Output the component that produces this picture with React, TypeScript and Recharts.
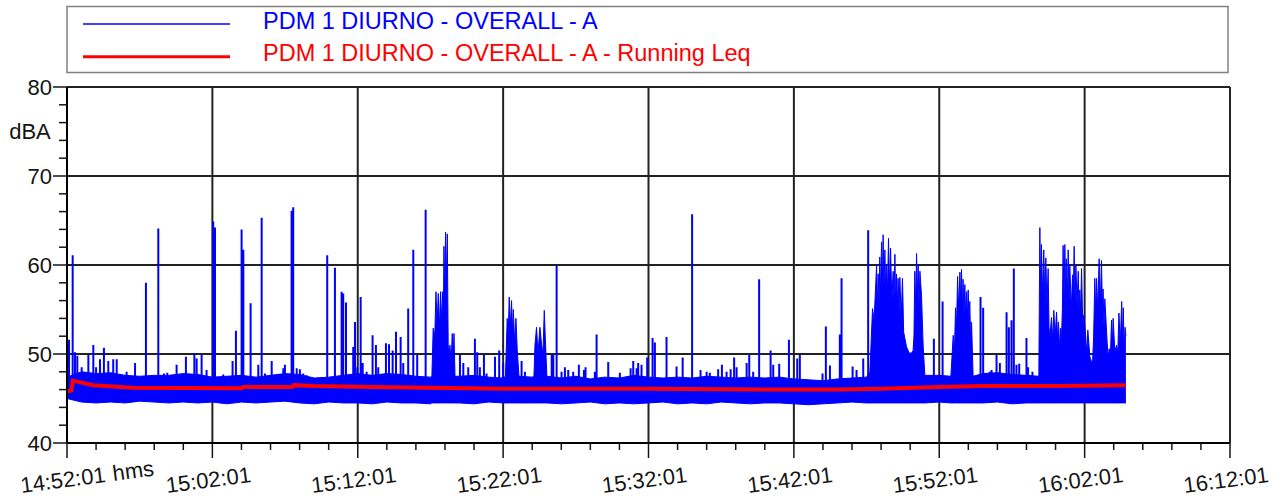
import { ComposedChart, Area, Line, XAxis, YAxis, CartesianGrid } from 'recharts';

// x values are minutes after 14:52:01
const timeLabels = ['14:52:01', '15:02:01', '15:12:01', '15:22:01', '15:32:01', '15:42:01', '15:52:01', '16:02:01', '16:12:01'];
const xTicks = [0, 2, 4, 6, 8, 10, 12, 14, 16, 18, 20, 22, 24, 26, 28, 30, 32, 34, 36, 38, 40, 42, 44, 46, 48, 50, 52, 54, 56, 58, 60, 62, 64, 66, 68, 70, 72, 74, 76, 78, 80];
const yTicks = [40, 42, 44, 46, 48, 50, 52, 54, 56, 58, 60, 62, 64, 66, 68, 70, 72, 74, 76, 78, 80];

// steady part of the level: [minute, low, high]
const baseBand: [number, number, number][] = [
  [0, 45.0, 47.4], [1, 44.6, 48.0], [2, 44.5, 47.8], [3, 44.6, 47.9], [4, 44.5, 47.6], [5, 44.7, 47.5],
  [6, 44.6, 47.6], [7, 44.5, 47.6], [8, 44.6, 47.8], [9, 44.5, 47.7], [10, 44.6, 47.4], [11, 44.4, 47.5],
  [12, 44.6, 47.6], [13, 44.5, 47.4], [14, 44.6, 47.6], [15, 44.7, 47.8], [16, 44.5, 47.7], [17, 44.4, 47.3],
  [18, 44.6, 47.4], [19, 44.5, 47.6], [20, 44.5, 47.8], [21, 44.4, 47.6], [22, 44.6, 47.8], [23, 44.5, 47.7],
  [24, 44.5, 47.5], [25, 44.4, 47.4], [27, 44.5, 47.5], [28, 44.4, 47.6], [29, 44.6, 47.4], [30, 44.5, 47.3],
  [32, 44.5, 47.4], [34, 44.4, 47.3], [35, 44.5, 47.5], [36, 44.6, 47.2], [37, 44.4, 47.4], [38, 44.5, 47.3],
  [39, 44.4, 47.6], [40, 44.5, 47.4], [41, 44.6, 47.3], [42, 44.4, 47.4], [43, 44.5, 47.3], [44, 44.4, 47.5],
  [45, 44.6, 47.4], [46, 44.5, 47.3], [47, 44.4, 47.4], [48, 44.5, 47.3], [49, 44.5, 47.4], [50, 44.4, 47.2],
  [51, 44.3, 47.1], [52, 44.4, 47.0], [53, 44.5, 47.2], [54, 44.6, 47.3], [55, 44.5, 47.4], [60, 44.6, 47.6],
  [63, 44.5, 47.8], [64, 44.6, 47.9], [65, 44.4, 47.7], [66, 44.5, 47.6],
];
const burstFloor = 44.5;

// dense bursts: [minute, upper envelope]
const burstA: [number, number][] = [
  [25.1, 47.5], [25.19, 52.9], [25.3, 52.0], [25.38, 57.0], [25.46, 53.5], [25.54, 56.8], [25.62, 53.0], [25.7, 57.0],
  [25.77, 53.5], [25.84, 57.0], [25.89, 54.0], [25.93, 62.1], [25.98, 56.0], [26.04, 63.7], [26.1, 58.0], [26.16, 63.5],
  [26.22, 51.0], [26.28, 49.5], [26.34, 51.0], [26.42, 49.0], [26.5, 52.3], [26.56, 49.5], [26.62, 52.3], [26.69, 47.5],
];
const burstB: [number, number][] = [
  [30.16, 47.5], [30.28, 54.0], [30.35, 52.0], [30.42, 56.4], [30.5, 53.0], [30.58, 56.0], [30.64, 52.5], [30.7, 55.0],
  [30.8, 51.0], [30.88, 54.0], [30.97, 50.5], [31.09, 47.5],
];
const burstC: [number, number][] = [
  [32.12, 47.5], [32.19, 51.0], [32.3, 53.0], [32.4, 50.0], [32.53, 53.0], [32.65, 51.0], [32.74, 50.0], [32.83, 54.9],
  [32.92, 51.0], [33.01, 47.5],
];
const burstD: [number, number][] = [
  [55.23, 48.0], [55.41, 55.1], [55.52, 53.8], [55.69, 60.0], [55.75, 55.0], [55.8, 59.0], [55.86, 55.5], [55.91, 60.9],
  [55.97, 56.5], [56.03, 62.6], [56.08, 57.0], [56.14, 63.4], [56.2, 57.5], [56.26, 61.7], [56.32, 56.5], [56.37, 60.0],
  [56.44, 57.0], [56.51, 63.0], [56.58, 57.5], [56.65, 61.9], [56.74, 56.0], [56.83, 59.3], [56.89, 56.0], [56.95, 61.2],
  [57.0, 55.5], [57.06, 59.0], [57.12, 55.0], [57.17, 58.5], [57.23, 54.5], [57.29, 58.6], [57.38, 54.0], [57.47, 58.5],
  [57.55, 52.5], [57.63, 51.8], [57.75, 50.8], [57.93, 50.1], [58.09, 50.1], [58.2, 50.4], [58.26, 52.0], [58.32, 59.3],
  [58.38, 55.0], [58.44, 61.3], [58.5, 56.0], [58.55, 60.0], [58.61, 55.5], [58.67, 59.3], [58.78, 56.6], [58.89, 51.0],
  [59.01, 47.6],
];
const burstE: [number, number][] = [
  [60.8, 47.5], [60.96, 52.1], [61.05, 50.5], [61.12, 55.2], [61.19, 53.0], [61.26, 58.7], [61.34, 55.0], [61.42, 59.2],
  [61.48, 55.5], [61.53, 59.5], [61.59, 55.0], [61.64, 58.4], [61.7, 54.5], [61.76, 57.8], [61.82, 54.0], [61.88, 57.0],
  [61.94, 54.0], [61.99, 57.2], [62.05, 53.5], [62.1, 55.9], [62.16, 51.5], [62.22, 53.6], [62.33, 47.5],
];
const burstF: [number, number][] = [
  [66.85, 47.5], [66.92, 64.2], [66.97, 57.0], [67.03, 62.3], [67.1, 56.5], [67.19, 61.7], [67.26, 56.0], [67.33, 60.8],
  [67.41, 55.5], [67.49, 59.6], [67.55, 53.0], [67.61, 51.8], [67.72, 54.1], [67.8, 51.5], [67.88, 54.9], [67.97, 52.0],
  [68.07, 54.7], [68.14, 51.5], [68.2, 53.6], [68.28, 50.5], [68.34, 52.9], [68.41, 51.8], [68.47, 55.0], [68.52, 62.2],
  [68.58, 56.0], [68.64, 62.3], [68.7, 56.5], [68.75, 60.7], [68.81, 56.0], [68.87, 61.7], [68.93, 56.0], [68.98, 60.0],
  [69.08, 55.0], [69.17, 58.9], [69.22, 56.0], [69.28, 62.1], [69.34, 56.0], [69.4, 60.0], [69.48, 55.5], [69.56, 59.3],
  [69.62, 54.5], [69.67, 57.2], [69.73, 54.5], [69.79, 59.6], [69.87, 53.0], [69.95, 54.4], [70.08, 51.8], [70.15, 50.0],
  [70.22, 52.7], [70.36, 49.7], [70.54, 48.8], [70.62, 52.0], [70.7, 58.5], [70.76, 54.5], [70.82, 58.5], [70.9, 55.0],
  [71.0, 60.7], [71.08, 55.5], [71.16, 60.5], [71.22, 55.0], [71.27, 57.3], [71.33, 53.0], [71.39, 56.2], [71.55, 51.3],
  [71.62, 49.5], [71.69, 50.6], [71.77, 49.5], [71.85, 53.8], [71.9, 50.5], [71.96, 54.0], [72.08, 50.3], [72.2, 51.0],
  [72.28, 50.0], [72.36, 54.6], [72.45, 51.0], [72.55, 55.9], [72.6, 51.5], [72.66, 55.2], [72.72, 50.5], [72.78, 53.0],
  [72.84, 52.0],
];

// single short events: [minute, peak dBA]
const spikes: [number, number][] = [
  [0.14, 51.6], [0.39, 61.1], [0.55, 50.2], [0.71, 49.8], [1.01, 48.5], [1.47, 49.9], [1.81, 51.0], [2.0, 48.5],
  [2.27, 49.4], [2.54, 50.7], [2.84, 49.2], [3.18, 49.4], [3.42, 49.4], [4.1, 48.0], [4.68, 49.0], [5.43, 58.0],
  [6.28, 64.1], [6.67, 47.8], [6.9, 47.9], [7.54, 48.8], [8.18, 49.7], [8.76, 50.1], [8.92, 49.5], [9.26, 49.9],
  [9.6, 48.2], [10.06, 64.9], [10.18, 64.2], [10.75, 47.7], [11.39, 49.2], [11.62, 52.6], [12.01, 64.0], [12.13, 61.7],
  [12.63, 55.7], [13.16, 48.8], [13.39, 65.3], [13.62, 47.8], [14.08, 49.2], [14.88, 48.4], [14.99, 48.8], [15.45, 66.1],
  [15.56, 66.5], [15.8, 48.4], [16.02, 48.3], [16.25, 47.8], [16.48, 47.6], [17.9, 61.1], [18.43, 59.7], [18.89, 57.0],
  [19.0, 56.8], [19.19, 55.8], [19.69, 50.8], [19.81, 53.6], [19.97, 48.5], [20.2, 56.4], [20.34, 49.0], [20.61, 48.0],
  [21.02, 52.1], [21.25, 51.0], [21.41, 48.5], [21.94, 51.2], [22.15, 51.1], [22.4, 50.4], [22.63, 52.5], [22.95, 51.9],
  [23.13, 49.0], [23.47, 55.1], [23.82, 61.7], [24.09, 49.9], [24.67, 66.2],
  [27.03, 49.9], [27.26, 49.0], [27.6, 48.5], [28.06, 51.7], [28.22, 50.2], [28.4, 48.5], [28.68, 49.9], [28.86, 47.8],
  [29.44, 49.7], [29.73, 50.4], [30.0, 49.0], [31.27, 49.2], [31.5, 48.0], [33.34, 49.9], [33.45, 49.9], [33.68, 59.9],
  [34.02, 48.0], [34.25, 48.5], [34.48, 48.2], [34.82, 48.0], [35.21, 48.8], [35.56, 48.2], [35.67, 48.5], [36.31, 48.0],
  [36.43, 52.2], [37.23, 49.1], [38.03, 47.9], [38.77, 48.4], [38.95, 49.2], [39.18, 48.4], [39.29, 49.0], [39.52, 48.8],
  [39.91, 49.6], [40.28, 51.8], [40.44, 51.3], [41.24, 51.9], [41.93, 48.6], [42.35, 49.6], [43.0, 65.7], [43.58, 48.2],
  [44.0, 48.0], [44.22, 47.9], [44.79, 48.3], [45.05, 48.8], [45.37, 48.0], [45.65, 48.3], [45.89, 49.6], [46.06, 48.5],
  [46.75, 49.0], [46.93, 49.9], [47.2, 48.0], [47.61, 58.4], [48.4, 50.4], [48.58, 48.8], [48.99, 48.9], [49.66, 51.6],
  [50.23, 49.5], [50.41, 49.9], [51.97, 47.8], [52.2, 53.1], [52.48, 48.7], [53.16, 52.2], [53.28, 58.5], [54.04, 48.6],
  [54.31, 48.2], [54.77, 49.5], [55.11, 63.9], [59.63, 51.7], [60.23, 55.9], [62.84, 56.4], [63.02, 55.2], [63.48, 48.0],
  [63.6, 48.2], [63.94, 49.9], [64.17, 49.0], [64.63, 54.7], [64.79, 53.0], [64.97, 53.8], [65.13, 59.6], [65.31, 48.8],
  [65.5, 48.9], [66.0, 51.8], [66.11, 48.5], [66.41, 48.0],
];
const spikeBase = 46.5;

// running Leq: [minute, dBA]
const runningLeq: [number, number][] = [
  [0, 45.8], [0.3, 45.9], [0.4, 47.0], [0.7, 46.9], [1.8, 46.5], [4.5, 46.2], [12, 46.15], [12.1, 46.3],
  [15.5, 46.3], [15.6, 46.5], [17, 46.4], [21, 46.3], [25, 46.2], [30, 46.1], [40, 46.1], [48, 46.0],
  [53, 46.0], [56, 46.1], [60, 46.3], [63, 46.4], [68, 46.4], [72.85, 46.5],
];

const bandData = [
  ...baseBand.map(([t, lo, hi]) => ({ t, band: [lo, hi] })),
  ...[...burstA, ...burstB, ...burstC, ...burstD, ...burstE, ...burstF].map(([t, hi]) => ({ t, band: [burstFloor, hi] })),
].sort((a, b) => a.t - b.t);

const spikeData = spikes.flatMap(([t, p]) => [
  { t, v: spikeBase },
  { t, v: p },
  { t, v: spikeBase },
]);

const leqData = runningLeq.map(([t, v]) => ({ t, v }));

const FONT = '"Liberation Sans", Arial, sans-serif';
const INK = '#151515';

const XTick = (props: any) => {
  const { x, y, payload } = props;
  const m = payload.value as number;
  const major = m % 10 === 0;
  return (
    <g>
      <line x1={x} x2={x} y1={y} y2={y + (major ? 15 : 7)} stroke={INK} strokeWidth={1.5} />
      {major && (
        <g transform={`translate(${x - 4},${y + 37}) rotate(-7.5)`}>
          <text textAnchor="middle" dominantBaseline="central" fontSize={22} fontFamily={FONT} fill={INK}>
            {timeLabels[m / 10]}
          </text>
          {m === 0 && (
            <text x={50} textAnchor="start" dominantBaseline="central" fontSize={22} fontFamily={FONT} fill={INK}>
              hms
            </text>
          )}
        </g>
      )}
    </g>
  );
};

const YTick = (props: any) => {
  const { x, y, payload } = props;
  const v = payload.value as number;
  const major = v % 10 === 0;
  return (
    <g>
      <line x1={x - (major ? 14 : 8)} x2={x} y1={y} y2={y} stroke={INK} strokeWidth={1.5} />
      {major && (
        <text x={x - 15} y={y} textAnchor="end" dominantBaseline="central" fontSize={22} fontFamily={FONT} fill={INK}>
          {v}
        </text>
      )}
    </g>
  );
};

function LegendBox() {
  return (
    <svg width={1282} height={80} style={{ position: 'absolute', left: 0, top: 0 }}>
      <rect x={67} y={6.5} width={1161} height={66} fill="#fff" stroke="#808080" strokeWidth={1.5} />
      <line x1={83} x2={230} y1={24} y2={24} stroke="#0000ff" strokeWidth={1.5} />
      <text x={263} y={20.5} dominantBaseline="central" fontSize={23.5} fontFamily={FONT} fill="#0000ff">
        PDM 1 DIURNO - OVERALL - A
      </text>
      <line x1={83} x2={230} y1={56.7} y2={56.7} stroke="#ff0000" strokeWidth={3} />
      <text x={263} y={53} dominantBaseline="central" fontSize={23.5} fontFamily={FONT} fill="#ff0000">
        PDM 1 DIURNO - OVERALL - A - Running Leq
      </text>
    </svg>
  );
}

export default function App() {
  return (
    <div style={{ position: 'absolute', left: 0, top: 0, width: 1282, height: 500, background: '#fff' }}>
      <LegendBox />
      <ComposedChart width={1282} height={500} margin={{ top: 87, right: 52, bottom: 0, left: 7 }}>
        <CartesianGrid
          horizontalValues={[50, 60, 70, 80]}
          verticalValues={[10, 20, 30, 40, 50, 60, 70, 80]}
          stroke="#222"
          strokeWidth={2}
        />
        <XAxis
          type="number"
          dataKey="t"
          domain={[0, 80]}
          ticks={xTicks}
          interval={0}
          allowDataOverflow
          height={57}
          tickSize={0}
          tickMargin={0}
          tickLine={false}
          axisLine={{ stroke: '#000', strokeWidth: 2 }}
          tick={XTick}
        />
        <YAxis
          type="number"
          domain={[40, 80]}
          ticks={yTicks}
          interval={0}
          allowDataOverflow
          width={60}
          tickSize={0}
          tickMargin={0}
          tickLine={false}
          axisLine={{ stroke: '#000', strokeWidth: 2 }}
          tick={YTick}
        />
        <Area
          data={bandData}
          dataKey="band"
          type="linear"
          stroke="#0000ff"
          strokeWidth={1}
          fill="#0000ff"
          fillOpacity={1}
          isAnimationActive={false}
          dot={false}
          activeDot={false}
        />
        <Line
          data={spikeData}
          dataKey="v"
          type="linear"
          stroke="#0000ff"
          strokeWidth={2}
          dot={false}
          activeDot={false}
          isAnimationActive={false}
        />
        <Line
          data={leqData}
          dataKey="v"
          type="linear"
          stroke="#ff0000"
          strokeWidth={4}
          dot={false}
          activeDot={false}
          isAnimationActive={false}
        />
      </ComposedChart>
      <svg width={70} height={160} style={{ position: 'absolute', left: 0, top: 80 }}>
        <text x={30} y={51} textAnchor="middle" dominantBaseline="central" fontSize={22} fontFamily={FONT} fill={INK}>
          dBA
        </text>
      </svg>
    </div>
  );
}
